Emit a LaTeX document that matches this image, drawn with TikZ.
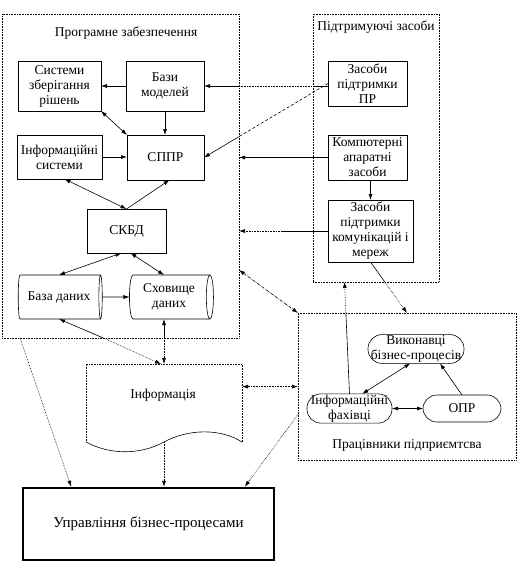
\documentclass[tikz,border=0pt]{standalone}
\usepackage{fontspec}
\setmainfont{Liberation Serif}
\newfontfamily\dssfont{Liberation Serif}
\usetikzlibrary{shapes.geometric,calc,arrows.meta}

\begin{document}
\begin{tikzpicture}[x=1pt,y=-1pt,line width=0.6pt] % DSS
\tikzset{%
  >={Latex[length=6pt,width=4pt]}, % filled arrow tips
  outer sep=0pt,%
  every node/.style={font=\dssfont\fontsize{13.5}{15}\selectfont,align=center},
  block/.style={draw,rectangle,inner sep=1pt},
  group/.style={draw,densely dotted,rectangle},
  store/.style={draw,cylinder,aspect=0.25,inner sep=1pt},
  person/.style={draw,rectangle,rounded corners=14pt,inner sep=1pt},
  link/.style={densely dotted},
  dlink/.style={densely dash dot}
}

%% page size

\useasboundingbox (0,0) rectangle (518,565);

%% groups

\node[group,minimum width=237pt,minimum height=324pt] (prog) at (120.5,176) {};
\node (progT) at (126,33) {Програмне забезпечення};
\node[group,minimum width=126pt,minimum height=268pt] (pidt) at (376,148) {};
\node (pidtT) at (376,27) {Підтримуючі засоби};
\node[group,minimum width=218pt,minimum height=147pt] (prac) at (407,386.5) {};
\node (pracT) at (407,445) {Працівники підприємтсва};

%% software

\node[block,minimum width=83pt,minimum height=50pt] (szr) at (59.5,86) {Системи\\зберігання\\рішень};
\node[block,minimum width=78pt,minimum height=50pt] (bazy) at (165,86) {Бази\\моделей};
\node[block,minimum width=85pt,minimum height=44pt] (infs) at (59.5,157) {Інформаційні\\системи};
\node[block,minimum width=77pt,minimum height=45pt] (sppr) at (165.5,157.5) {СППР};
\node[block,minimum width=79pt,minimum height=44pt] (skbd) at (126.5,231) {СКБД};
\node[store,minimum width=44pt,minimum height=84pt] (bd) at (59,297) {База даних};
\node[store,minimum width=44pt,minimum height=84pt] (sd) at (169,297) {Сховище\\даних};

%% support

\node[block,minimum width=79pt,minimum height=45pt] (zpr) at (367.5,83.5) {Засоби\\підтримки\\ПР};
\node[block,minimum width=79pt,minimum height=45pt] (kaz) at (367.5,157.5) {Компютерні\\апаратні\\засоби};
\node[block,minimum width=85pt,minimum height=62pt] (zpk) at (370.5,231) {Засоби\\підтримки\\комунікацій і\\мереж};

%% staff

\node[person,minimum width=96pt,minimum height=28pt] (vyk) at (416,349) {Виконавці\\бізнес-процесів};
\node[person,minimum width=85pt,minimum height=27pt] (ifah) at (349.5,408.5) {Інформаційні\\фахівці};
\node[person,minimum width=78pt,minimum height=27pt] (opr) at (462,408.5) {ОПР};

%% information and management

\node[minimum width=156pt,minimum height=78pt] (info) at (164,403) {};
\draw[densely dotted] (info.south east) -- (info.north east) -- (info.north west)
  -- (info.south west);
\draw (info.south west) .. controls (110,455) and (140,455) .. (164,442)
  .. controls (188,429) and (220,428) .. (info.south east);
\node (infoT) at (163,395) {Інформація};
\node[draw,line width=2.5pt,outer sep=1.2pt,minimum width=251pt,minimum height=72pt,
  font=\dssfont\fontsize{15}{17}\selectfont] (upr) at (148.5,524) {Управління бізнес-процесами};

%% links inside software

\draw[->] (bazy.west) -- (szr.east);
\draw[->] (bazy.south) -- (bazy.south |- sppr.north);
\draw[<->] (szr.south east) -- (sppr.north west);
\draw[->] (infs.east) -- (infs.east -| sppr.west);
\draw[<->] (skbd.north) -- ($(infs.south)+(5,0)$);
\draw[->] (skbd.north) -- ($(sppr.south)+(4,0)$);
\draw[<->] ($(skbd.south)+(-5,0)$) -- (bd.north);
\draw[<->] ($(skbd.south)+(4,0)$) -- ($(sd.north)+(-5,0)$);
\draw[->] (bd.east) -- (sd.west);

%% links between groups

\coordinate (c1a) at (bazy.east -| prog.east);
\coordinate (c1b) at (bazy.east -| pidt.west);
\draw[<-] (bazy.east) -- (c1a);
\draw[link] (c1a) -- (c1b);
\draw (c1b) -- (bazy.east -| zpr.west);

\coordinate (c2) at ($(zpr.west)!0.72!(sppr.east)$);
\draw[densely dashed] (zpr.west) -- (c2);
\draw[->] (c2) -- (sppr.east);

\draw[->] (kaz.west) -- (kaz.west -| prog.east);
\draw[->] (kaz.south -| zpk.north) -- (zpk.north);

\coordinate (c5) at ($(zpk.west)+(-45,0)$);
\draw (zpk.west) -- (c5);
\draw[link,->] (c5) -- (c5 -| prog.east);

\coordinate (c6) at ($(pidt.south west)!0.25!(pidt.south east)$);
\coordinate (c6m) at ($(ifah.north)!0.73!(c6)$);
\draw (ifah.north) -- (c6m);
\draw[link,->] (c6m) -- (c6);

\coordinate (c7m) at ($(zpk.south)!0.39!(prac.north)$);
\draw (zpk.south) -- (c7m);
\draw[link,->] (c7m) -- (prac.north);

\coordinate (c8) at ($(prog.north east)!0.79!(prog.south east)$);
\draw[dlink,<->] (c8) -- (prac.north west);

\coordinate (c9) at ($(info.north east)!0.29!(info.south east)$);
\draw[link,<->] (c9) -- (c9 -| prac.west);

\coordinate (c10a) at ($(prac.north west)!0.69!(prac.south west)$);
\coordinate (c10b) at ($(upr.north west)!0.88!(upr.north east)$);
\draw[link,->] (c10a) -- (c10b);

\draw[link,->] (info.south) -- (info.south |- upr.north);

\coordinate (c12a) at ($(prog.south west)!0.076!(prog.south east)$);
\coordinate (c12b) at ($(upr.north west)!0.195!(upr.north east)$);
\draw[link,->] (c12a) -- (c12b);

\coordinate (c13) at ($(bd.south)!0.43!(info.north)$);
\draw[<-] (bd.south) -- (c13);
\draw[link,->] (c13) -- ($(info.north)+(-3,0)$);

\coordinate (c14a) at (info.north |- sd.south);
\coordinate (c14b) at (info.north |- prog.south);
\draw[<-] (c14a) -- (c14b);
\draw[link,->] (c14b) -- (info.north);

%% links inside staff

\draw[<->] ($(ifah.north west)!0.65!(ifah.north east)$) -- ($(vyk.south west)!0.44!(vyk.south east)$);
\draw[->] (opr.north) -- ($(vyk.south west)!0.75!(vyk.south east)$);
\draw[<->] (ifah.east) -- (opr.west);
\end{tikzpicture}
\end{document}
